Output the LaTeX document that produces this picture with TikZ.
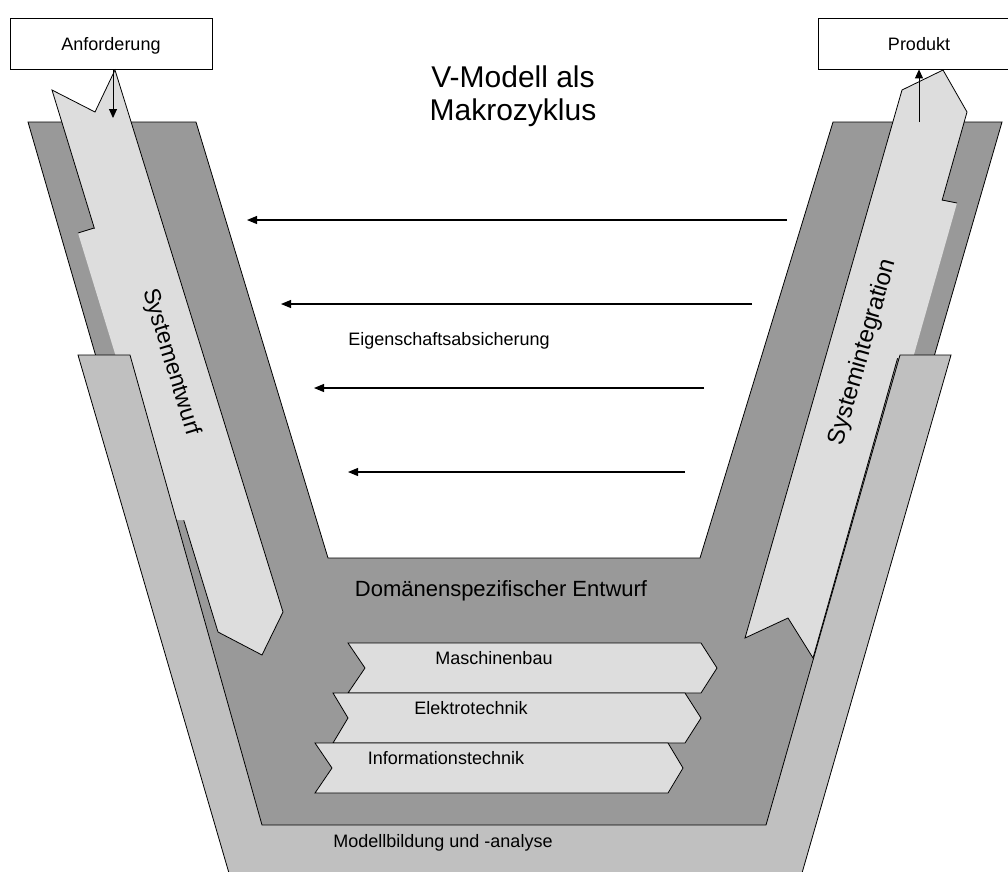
\documentclass[tikz,border=0pt]{standalone}
\usepackage{fontspec}
\setmainfont{Liberation Sans}
\usetikzlibrary{arrows.meta,calc}

\definecolor{domgray}{RGB}{153,153,153}
\definecolor{modgray}{RGB}{192,192,192}
\definecolor{stepgray}{RGB}{221,221,221}

\begin{document}
\begin{tikzpicture}
[x=1pt,y=-1pt,
every node/.style={inner sep=0pt,text=black},
band/.style={draw=black,line width=0.8pt},
smalltext/.style={font=\fontsize{18}{20}\selectfont},
bigtext/.style={font=\fontsize{22}{24}\selectfont},
reqbox/.style={draw,line width=0.8pt,minimum width=202pt,minimum height=51pt,
  font=\fontsize{18}{20}\selectfont,text depth=0pt},
flow/.style={draw,line width=0.9pt,-{Triangle[length=9pt,width=8pt]}},
check/.style={draw,line width=1.1pt,-{Triangle[length=10pt,width=8pt]}}]
\useasboundingbox (0,0) rectangle (1008,871);

% Domaenenspezifischer Entwurf (dark V)
\filldraw[band,fill=domgray] (28,122) -- (196,122) -- (328,558) -- (700,558)
  -- (833,122) -- (1002,122) -- (794,840) -- (236,840) -- cycle;

% Systementwurf (down arrow)
\filldraw[band,fill=stepgray] (52,90) -- (95,112) -- (115,70) -- (283,612)
  -- (262,655) -- (218,632) -- cycle;
\fill[stepgray] (78,233) -- (97,228) -- (187,520) -- (166,520) -- cycle;
\draw[band] (78,233) -- (94,228);

% Systemintegration (up arrow)
\filldraw[band,fill=stepgray] (902,90) -- (943,70) -- (967,112) -- (813,658)
  -- (788,618) -- (745,638) -- cycle;
\fill[stepgray] (940,200) -- (957,203) -- (913,358) -- (895,358) -- cycle;
\draw[band] (942,200) -- (957,203);

% Modellbildung (light band)
\filldraw[band,fill=modgray] (78,355) -- (130,355) -- (262,825) -- (766,825)
  -- (900,355) -- (951,355) -- (800,880) -- (231,880) -- cycle;

% domains
\filldraw[band,fill=stepgray] (348,643) -- (701,643) -- (717,668) -- (701,693)
  -- (348,693) -- (365,668) -- cycle;
\filldraw[band,fill=stepgray] (333,693) -- (685,693) -- (701,718) -- (685,743)
  -- (333,743) -- (348,718) -- cycle;
\filldraw[band,fill=stepgray] (315,743) -- (668,743) -- (683,768) -- (668,793)
  -- (315,793) -- (332,768) -- cycle;

\node[smalltext] (masch) at (494,658) {Maschinenbau};
\node[smalltext] (elektro) at (471,708) {Elektrotechnik};
\node[smalltext] (info) at (446,758) {Informationstechnik};
\node[smalltext] (modell) at (443,843) {Modellbildung und -analyse};
\node[bigtext] (domaene) at (501,591) {Domänenspezifischer Entwurf};
\node[bigtext,font=\fontsize{23}{25}\selectfont,rotate=-73] (entwurf)
  at (171,362) {Systementwurf};
\node[bigtext,font=\fontsize{24}{26}\selectfont,rotate=74] (integration)
  at (863,352) {Systemintegration};

\node[font=\fontsize{30}{33}\selectfont,align=center,anchor=north] (titel)
  at (513,66) {V-Modell als\\Makrozyklus};

% input / output
\node[reqbox] (anf) at (111,43.5) {Anforderung};
\node[reqbox] (prod) at (919,43.5) {Produkt};
\coordinate (anfin) at (113,118);
\coordinate (prodout) at (919,122);
\draw[flow] (anf.south -| anfin) -- (anfin);
\draw[flow] (prodout) -- (prod.south -| prodout);

% Eigenschaftsabsicherung
\coordinate (e1r) at (787,220); \coordinate (e1l) at (247,220);
\coordinate (e2r) at (752,304); \coordinate (e2l) at (281,304);
\coordinate (e3r) at (704,388); \coordinate (e3l) at (314,388);
\coordinate (e4r) at (685,472); \coordinate (e4l) at (348,472);
\draw[check] (e1r) -- (e1l);
\draw[check] (e2r) -- (e2l);
\draw[check] (e3r) -- (e3l);
\draw[check] (e4r) -- (e4l);
\node[smalltext] (absich) at (449,341) {Eigenschaftsabsicherung};
\end{tikzpicture}
\end{document}
